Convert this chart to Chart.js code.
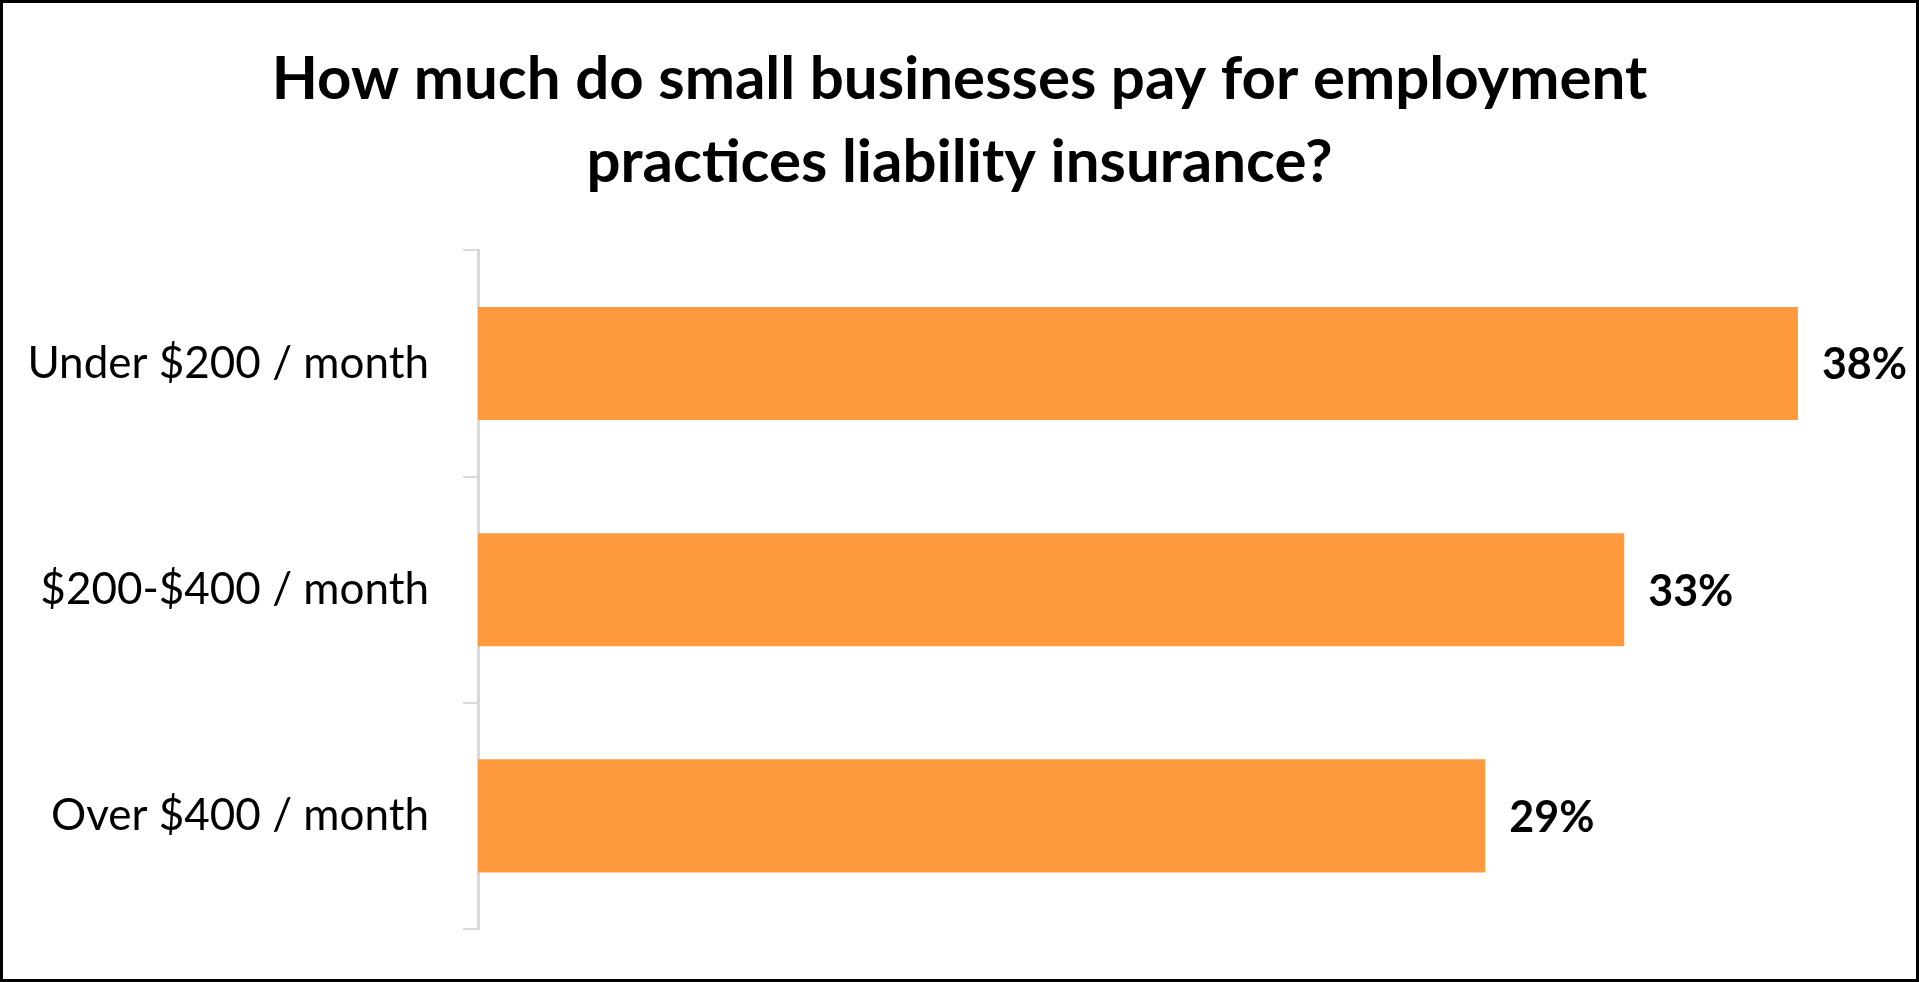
<!DOCTYPE html>
<html>
<head>
<meta charset="utf-8">
<title>Employment practices liability insurance</title>
<script src="https://cdn.jsdelivr.net/npm/chart.js@4.4.0/dist/chart.umd.min.js"></script>
<style>
    html, body { margin: 0; padding: 0; background: #fff; }
    .moldura {
        width: 1919px;
        height: 982px;
        box-sizing: border-box;
        border: 3px solid #000;
        background: #fff;
    }
    canvas { display: block; }
</style>
</head>
<body>
<div class="moldura">
    <canvas id="graficoCusto" width="1913" height="976"></canvas>
</div>
<script>
// Dados do gráfico
const tituloLinhas = ['How much do small businesses pay for employment', 'practices liability insurance?'];
const faixas = ['Under $200 / month', '$200-$400 / month', 'Over $400 / month'];
const percentuais = [38, 33, 29];
const eixoMaximo = 41.4; // eixo x escondido, só define a escala das barras

const corBarra = '#FF993E';
const corEixo = '#D9D9D9';

// Plugin simples para escrever o valor ao lado de cada barra
const rotulosValor = {
    id: 'rotulosValor',
    afterDatasetsDraw(chart) {
        const ctx = chart.ctx;
        const meta = chart.getDatasetMeta(0);
        ctx.save();
        ctx.font = 'bold 43px Lato';
        ctx.fillStyle = '#000';
        ctx.textAlign = 'left';
        ctx.textBaseline = 'middle';
        meta.data.forEach((barra, i) => {
            ctx.fillText(percentuais[i] + '%', barra.x + 24, barra.y + 2);
        });
        ctx.restore();
    }
};

const ctx = document.getElementById('graficoCusto').getContext('2d');

const graficoCusto = new Chart(ctx, {
    type: 'bar',
    data: {
        labels: faixas,
        datasets: [
            {
                label: 'Percentual',
                data: percentuais,
                backgroundColor: corBarra,
                barPercentage: 0.5,
                categoryPercentage: 1
            }
        ]
    },
    options: {
        indexAxis: 'y',
        responsive: false,
        animation: false,
        layout: {
            padding: { left: 0, right: 0, top: 0, bottom: 50 }
        },
        plugins: {
            legend: { display: false },
            tooltip: { enabled: false },
            title: {
                display: true,
                text: tituloLinhas,
                color: '#000',
                font: { family: 'Lato', size: 60, weight: 'bold', lineHeight: 1.37 },
                padding: { top: 36, bottom: 47 }
            }
        },
        scales: {
            x: {
                display: false,
                min: 0,
                max: eixoMaximo
            },
            y: {
                afterFit(scale) {
                    scale.width = 475; // eixo na mesma posição do original
                    scale.paddingTop = 0;
                    scale.paddingBottom = 0;
                },
                grid: {
                    display: true,
                    drawOnChartArea: false,
                    drawTicks: true,
                    tickLength: 15,
                    color: corEixo,
                    lineWidth: 2,
                    offset: true
                },
                border: { display: true, color: corEixo, width: 3 },
                ticks: {
                    color: '#000',
                    padding: 34,
                    font: { family: 'Lato', size: 44 }
                }
            }
        }
    },
    plugins: [rotulosValor]
});
</script>
</body>
</html>
